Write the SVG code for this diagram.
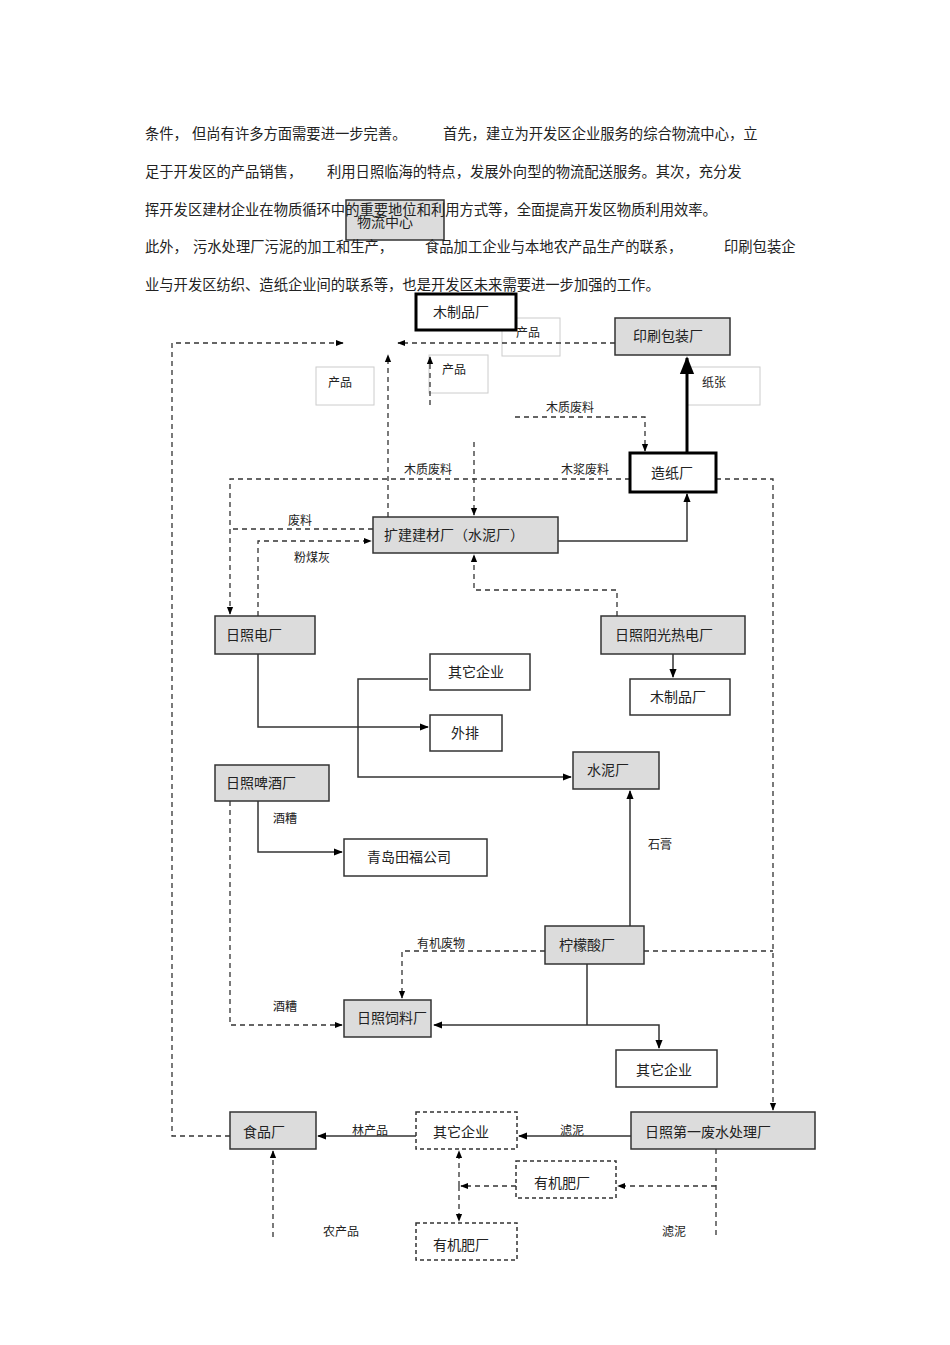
<svg xmlns="http://www.w3.org/2000/svg" width="950" height="1345" viewBox="0 0 950 1345">
<defs>
<marker id="a" viewBox="0 0 10 10" refX="9" refY="5" markerWidth="6" markerHeight="6" orient="auto"><path d="M0,1L10,5L0,9z" fill="#000"/></marker>
</defs>
<style>
text{font-family:"Noto Sans CJK SC","Liberation Sans",sans-serif;fill:#222}
.p{font-size:14.3px}
.n{font-size:14px}
.l{font-size:12px}
.g{fill:#dcdcdc;stroke:#333;stroke-width:1.5}
.w{fill:#fff;stroke:#333;stroke-width:1.5}
.t{fill:#fff;stroke:#000;stroke-width:3}
.d{fill:#fff;stroke:#333;stroke-width:1.5;stroke-dasharray:4,3}
.b{fill:none;stroke:#ccc;stroke-width:1}
.s{fill:none;stroke:#333;stroke-width:1.5}
.k{fill:none;stroke:#000;stroke-width:3}
.h{fill:none;stroke:#333;stroke-width:1.3;stroke-dasharray:5,4}
</style>
<rect width="950" height="1345" fill="#fff"/>
<g id="n1"><rect class="g" x="346" y="200" width="98" height="40"/><text class="n" x="357" y="227">物流中心</text></g>
<g id="para" class="p">
<text x="145" y="139">条件，</text><text x="192" y="139">但尚有许多方面需要进一步完善。</text><text x="443" y="139">首先，建立为开发区企业服务的综合物流中心，立</text>
<text x="145" y="177">足于开发区的产品销售，</text><text x="327" y="177">利用日照临海的特点，发展外向型的物流配送服务。其次，充分发</text>
<text x="145" y="215">挥开发区建材企业在物质循环中的重要地位和利用方式等，全面提高开发区物质利用效率。</text>
<text x="145" y="252">此外，</text><text x="193" y="252">污水处理厂污泥的加工和生产，</text><text x="425" y="252">食品加工企业与本地农产品生产的联系，</text><text x="724" y="252">印刷包装企</text>
<text x="145" y="290">业与开发区纺织、造纸企业间的联系等，也是开发区未来需要进一步加强的工作。</text>
</g>
<g id="labels" class="l">
<rect class="b" x="502" y="318" width="58" height="38"/><text x="516" y="337">产品</text>
<rect class="b" x="316" y="367" width="58" height="38"/><text x="328" y="387">产品</text>
<rect class="b" x="429" y="355" width="59" height="38"/><text x="442" y="374">产品</text>
<rect class="b" x="687" y="367" width="73" height="38"/><text x="702" y="387">纸张</text>
<text x="546" y="412">木质废料</text>
<text x="404" y="474">木质废料</text>
<text x="561" y="474">木浆废料</text>
<text x="288" y="525">废料</text>
<text x="294" y="562">粉煤灰</text>
<text x="273" y="823">酒糟</text>
<text x="648" y="849">石膏</text>
<text x="417" y="948">有机废物</text>
<text x="273" y="1011">酒糟</text>
<text x="560" y="1135">滤泥</text>
<text x="352" y="1135">林产品</text>
<text x="323" y="1236">农产品</text>
<text x="662" y="1236">滤泥</text>
</g>
<g id="connectors">
<path class="h" d="M230,1136H172V343H343" marker-end="url(#a)"/>
<path class="h" d="M615,343H398" marker-end="url(#a)"/>
<path class="h" d="M388,517V355" marker-end="url(#a)"/>
<path class="h" d="M430,405V357" marker-end="url(#a)"/>
<path class="k" d="M687,453V358" marker-end="url(#a)"/>
<path class="h" d="M515,417H645V451" marker-end="url(#a)"/>
<path class="h" d="M474,442V515" marker-end="url(#a)"/>
<path class="h" d="M630,479H230V614" marker-end="url(#a)"/>
<path class="h" d="M716,479H773V1110" marker-end="url(#a)"/>
<path class="h" d="M373,529H230"/>
<path class="h" d="M258,616V541H371" marker-end="url(#a)"/>
<path class="s" d="M558,541H687V494" marker-end="url(#a)"/>
<path class="h" d="M617,616V590H474V555" marker-end="url(#a)"/>
<path class="s" d="M673,654V677" marker-end="url(#a)"/>
<path class="s" d="M258,654V727H428" marker-end="url(#a)"/>
<path class="s" d="M428,679H358V777H571" marker-end="url(#a)"/>
<path class="s" d="M258,801V852H342" marker-end="url(#a)"/>
<path class="h" d="M230,801V1025H342" marker-end="url(#a)"/>
<path class="s" d="M630,926V791" marker-end="url(#a)"/>
<path class="h" d="M545,951H402V998" marker-end="url(#a)"/>
<path class="h" d="M644,951H773"/>
<path class="s" d="M587,964V1025" stroke-width="1"/>
<path class="s" d="M587,1025H659V1048" stroke-width="2.5" marker-end="url(#a)"/>
<path class="s" d="M587,1025H434" stroke-width="2.5" marker-end="url(#a)"/>
<path class="s" d="M631,1136H519" marker-end="url(#a)"/>
<path class="s" d="M416,1136H318" marker-end="url(#a)"/>
<path class="h" d="M273,1237V1151" marker-end="url(#a)"/>
<path class="h" d="M716,1149V1237"/>
<path class="h" d="M716,1186H618" marker-end="url(#a)"/>
<path class="h" d="M516,1186H461" marker-end="url(#a)"/>
<path class="h" d="M459,1186V1151" marker-end="url(#a)"/>
<path class="h" d="M459,1186V1221" marker-end="url(#a)"/>
</g>
<g id="n2"><rect class="t" x="416" y="294" width="100" height="36"/><text class="n" x="433" y="317">木制品厂</text></g>
<g id="n3"><rect class="g" x="615" y="318" width="115" height="37"/><text class="n" x="633" y="341">印刷包装厂</text></g>
<g id="n4"><rect class="t" x="630" y="453" width="86" height="39"/><text class="n" x="651" y="478">造纸厂</text></g>
<g id="n5"><rect class="g" x="373" y="517" width="185" height="36"/><text class="n" x="384" y="540">扩建建材厂（水泥厂）</text></g>
<g id="n6"><rect class="g" x="215" y="616" width="100" height="38"/><text class="n" x="226" y="640">日照电厂</text></g>
<g id="n7"><rect class="g" x="601" y="616" width="144" height="38" stroke-width="2"/><text class="n" x="615" y="640">日照阳光热电厂</text></g>
<g id="n8"><rect class="w" x="630" y="679" width="100" height="36"/><text class="n" x="650" y="702">木制品厂</text></g>
<g id="n9"><rect class="w" x="430" y="654" width="100" height="36"/><text class="n" x="448" y="677">其它企业</text></g>
<g id="n10"><rect class="w" x="430" y="715" width="72" height="36"/><text class="n" x="451" y="738">外排</text></g>
<g id="n11"><rect class="g" x="573" y="752" width="86" height="37"/><text class="n" x="587" y="775">水泥厂</text></g>
<g id="n12"><rect class="g" x="215" y="765" width="114" height="36"/><text class="n" x="226" y="788">日照啤酒厂</text></g>
<g id="n13"><rect class="w" x="344" y="839" width="143" height="37"/><text class="n" x="367" y="862">青岛田福公司</text></g>
<g id="n14"><rect class="g" x="545" y="926" width="99" height="38"/><text class="n" x="559" y="950">柠檬酸厂</text></g>
<g id="n15"><rect class="g" x="344" y="1000" width="87" height="37"/><text class="n" x="357" y="1023">日照饲料厂</text></g>
<g id="n16"><rect class="w" x="616" y="1050" width="101" height="37"/><text class="n" x="636" y="1075">其它企业</text></g>
<g id="n17"><rect class="g" x="230" y="1112" width="86" height="37" stroke-width="2"/><text class="n" x="243" y="1137">食品厂</text></g>
<g id="n18"><rect class="d" x="416" y="1112" width="101" height="37"/><text class="n" x="433" y="1137">其它企业</text></g>
<g id="n19"><rect class="g" x="631" y="1112" width="184" height="37" stroke-width="2"/><text class="n" x="645" y="1137">日照第一废水处理厂</text></g>
<g id="n20"><rect class="d" x="516" y="1161" width="100" height="37"/><text class="n" x="534" y="1188">有机肥厂</text></g>
<g id="n21"><rect class="d" x="416" y="1223" width="101" height="37"/><text class="n" x="433" y="1250">有机肥厂</text></g>
</svg>
